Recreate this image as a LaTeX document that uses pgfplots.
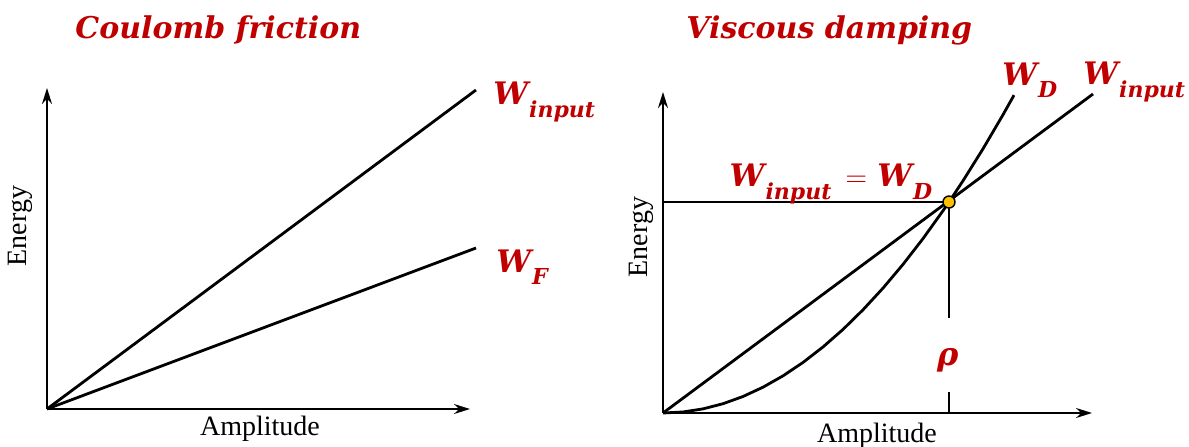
\documentclass[border=0pt]{standalone}
\usepackage{fontspec}
\setmainfont{Liberation Serif}
\newfontfamily\titlefont[BoldItalicFont={DejaVu Serif Bold Italic}]{DejaVu Serif}
\usepackage{pgfplots}
\pgfplotsset{compat=1.18}
\usetikzlibrary{arrows.meta}
\definecolor{dred}{RGB}{192,0,0}
\newcommand\TF{\titlefont\bfseries\itshape\color{dred}}
\newcommand\Wsub[1]{W\kern0.5pt\raisebox{-0.4em}{\fontsize{11}{11}\selectfont #1}}
\begin{document}
\begin{tikzpicture}[x=0.5pt,y=0.5pt]
\useasboundingbox (0,0) rectangle (1189,446);
\pgfplotsset{
  myax/.style={
    scale only axis, axis lines=left, ticks=none, clip=false,
    xmin=0, ymin=0,
    axis line style={line width=1pt, -{Stealth[length=8pt,width=5pt]}},
  }
}
% Left panel
\begin{axis}[myax, at={(47,37)}, anchor=south west,
  width=211.5pt, height=160.5pt, xmax=423, ymax=321]
\addplot[line width=1.4pt, black] coordinates {(0,0) (429,319)};
\addplot[line width=1.4pt, black] coordinates {(0,0) (429,161)};
\end{axis}
% Right panel
\begin{axis}[myax, at={(663,33)}, anchor=south west,
  width=214.5pt, height=160.5pt, xmax=429, ymax=321]
\addplot[line width=0.6pt, black] coordinates {(0,211) (286,211) (286,95)};
\addplot[line width=0.6pt, black] coordinates {(286,21) (286,0)};
\addplot[line width=1.4pt, black] coordinates {(0,0) (430,319)};
\addplot[line width=1.4pt, black] coordinates {
(0,0) (20,1.03) (40,4.13) (60,9.29) (80,16.51) (100,25.8) (120,37.15)
(140,50.57) (160,66.05) (180,83.59) (200,103.2) (220,124.87) (240,148.61)
(260,174.41) (280,202.27) (286,211.03) (300,232.2) (320,264.19) (340,298.25) (351,317.86)};
\addplot[only marks, mark=*, mark size=3pt, mark options={fill={rgb,255:red,255;green,192;blue,0}, draw=black, line width=0.7pt}] coordinates {(286,211)};
\end{axis}
% Titles
\node[anchor=west, inner sep=0pt] at (75,416) {\fontsize{15}{15}\selectfont\TF Coulomb friction};
\node[anchor=west, inner sep=0pt] at (686,416) {\fontsize{15}{15}\selectfont\TF Viscous damping};
% Axis labels
\node[rotate=90, inner sep=0pt] at (20,220) {\fontsize{14}{14}\selectfont Energy};
\node[rotate=90, inner sep=0pt] at (641,209) {\fontsize{14}{14}\selectfont Energy};
\node[inner sep=0pt] at (260,17) {\fontsize{14}{14}\selectfont Amplitude};
\node[inner sep=0pt] at (877,10) {\fontsize{14}{14}\selectfont Amplitude};
% Curve labels
\node[anchor=west, inner sep=0pt] at (493,344) {\fontsize{15.5}{15.5}\selectfont\TF \Wsub{input}};
\node[anchor=west, inner sep=0pt] at (496,179) {\fontsize{15.5}{15.5}\selectfont\TF \Wsub{F}};
\node[anchor=west, inner sep=0pt] at (1002,366) {\fontsize{15.5}{15.5}\selectfont\TF \Wsub{D}};
\node[anchor=west, inner sep=0pt] at (1083,364) {\fontsize{15.5}{15.5}\selectfont\TF \Wsub{input}};
\node[inner sep=0pt] at (831,262) {\fontsize{15.5}{15.5}\selectfont\TF \Wsub{input}\kern3pt${}={}$\kern1pt\Wsub{D}};
\node[inner sep=0pt] at (948,86) {\fontsize{16}{16}\selectfont\TF ρ};
\end{tikzpicture}
\end{document}
